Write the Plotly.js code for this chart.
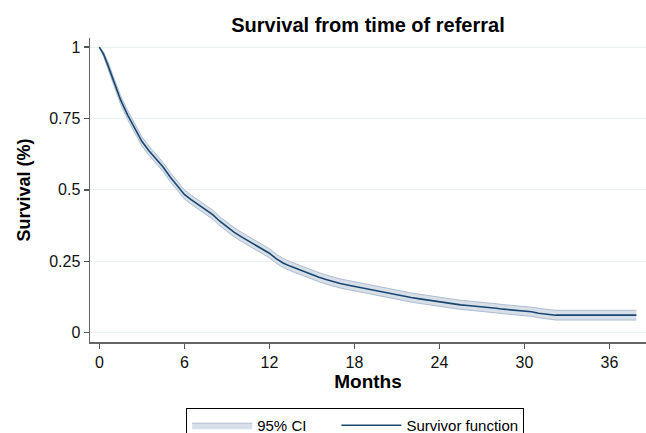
<!DOCTYPE html>
<html>
<head>
<meta charset="utf-8">
<script src="https://cdn.plot.ly/plotly-3.0.1.min.js"></script>
<style>html,body{margin:0;padding:0;background:#fff;}#chart{width:646px;height:433px;}</style>
</head>
<body>
<div id="chart"></div>
<script>
const months = [0,0.3,0.6,1.0,1.5,2.0,2.5,3.0,3.5,4.0,4.5,5.0,5.5,6.0,6.5,7.0,7.5,8.0,8.5,9.0,9.5,10.0,10.5,11.0,11.5,12.0,12.5,13.0,13.5,14.0,14.5,15.0,15.5,16.0,16.5,17.0,17.5,18.0,18.5,19.0,19.5,20.0,20.5,21.0,21.5,22.0,22.5,23.0,23.5,24.0,24.5,25.0,25.5,26.0,26.5,27.0,27.5,28.0,28.5,29.0,29.5,30.0,30.5,31.0,31.5,32.2,37.9];
const survival = [1.0,0.975,0.937,0.88,0.815,0.762,0.715,0.67,0.637,0.61,0.58,0.545,0.515,0.484,0.465,0.448,0.433,0.413,0.39,0.37,0.352,0.336,0.321,0.305,0.291,0.278,0.258,0.243,0.232,0.222,0.213,0.204,0.194,0.186,0.178,0.172,0.167,0.162,0.156,0.151,0.146,0.141,0.137,0.132,0.127,0.123,0.119,0.115,0.111,0.107,0.104,0.100,0.097,0.095,0.093,0.090,0.087,0.085,0.082,0.080,0.078,0.076,0.073,0.068,0.064,0.061,0.061];
const ciLower = [1.0,0.967,0.925,0.866,0.800,0.746,0.699,0.654,0.621,0.594,0.564,0.529,0.499,0.468,0.449,0.432,0.417,0.397,0.374,0.354,0.336,0.320,0.305,0.289,0.275,0.262,0.242,0.227,0.216,0.206,0.197,0.188,0.178,0.170,0.162,0.156,0.151,0.146,0.140,0.135,0.130,0.125,0.121,0.116,0.111,0.107,0.103,0.099,0.095,0.091,0.088,0.084,0.081,0.079,0.077,0.074,0.071,0.069,0.066,0.064,0.062,0.060,0.057,0.052,0.048,0.044,0.044];
const ciUpper = [1.0,0.983,0.949,0.894,0.830,0.778,0.731,0.686,0.653,0.626,0.596,0.561,0.531,0.500,0.481,0.464,0.449,0.429,0.406,0.386,0.368,0.352,0.337,0.321,0.307,0.294,0.274,0.259,0.248,0.238,0.229,0.220,0.210,0.202,0.194,0.188,0.183,0.178,0.172,0.167,0.162,0.157,0.153,0.148,0.143,0.139,0.135,0.131,0.127,0.123,0.120,0.116,0.113,0.111,0.109,0.106,0.103,0.101,0.098,0.096,0.094,0.092,0.089,0.085,0.081,0.078,0.078];
const xTicks = [0,6,12,18,24,30,36];
const yTicks = [0,0.25,0.5,0.75,1];
const yTickLabels = ['0','0.25','0.5','0.75','1'];

const traces = [
  {x: months, y: ciLower, type:'scatter', mode:'lines', line:{color:'#aebdcf', width:1}, showlegend:false, hoverinfo:'skip'},
  {x: months, y: ciUpper, type:'scatter', mode:'lines', fill:'tonexty', fillcolor:'#d7dfe8', line:{color:'#aebdcf', width:1}, name:'95% CI\u00a0\u00a0\u00a0\u00a0\u00a0\u00a0'},
  {x: months, y: survival, type:'scatter', mode:'lines', line:{color:'#1a476f', width:1.6}, name:'Survivor function'}
];

const layout = {
  width:646, height:433,
  margin:{l:90, r:0, t:38, b:91, pad:0, autoexpand:false},
  paper_bgcolor:'#ffffff', plot_bgcolor:'#ffffff',
  font:{family:'Liberation Sans, Arial, sans-serif', color:'#000', size:16},
  title:{text:'<b>Survival from time of referral</b>', x:0.5, xref:'paper', xanchor:'center', y:0.942, yanchor:'middle', yref:'container', font:{size:20, color:'#000'}},
  xaxis:{range:[-0.66,38.58], tickvals:xTicks, ticks:'outside', ticklen:5, tickcolor:'#555', tickwidth:1.3,
    showline:true, linecolor:'#666', linewidth:1.5, showgrid:false, zeroline:false,
    tickfont:{size:16, color:'#111'},
    title:{text:'<b>Months</b>', font:{size:19}, standoff:2}},
  yaxis:{range:[-0.033,1.032], tickvals:yTicks, ticktext:yTickLabels, ticks:'outside', ticklen:5, tickcolor:'#555', tickwidth:1.3,
    showline:true, linecolor:'#666', linewidth:1.5, showgrid:true, gridcolor:'#e8f0f2', gridwidth:1, zeroline:false,
    tickfont:{size:16, color:'#111'},
    title:{text:'<b>Survival (%)</b>', font:{size:18}, standoff:14}},
  legend:{orientation:'h', x:0.173, xanchor:'left', y:-0.217, yanchor:'top', bordercolor:'#000', borderwidth:1,
    font:{size:15, color:'#000'}, bgcolor:'#fff', traceorder:'normal', itemwidth:60},
  showlegend:true
};

Plotly.newPlot('chart', traces, layout, {displayModeBar:false, staticPlot:true});
</script>
</body>
</html>
